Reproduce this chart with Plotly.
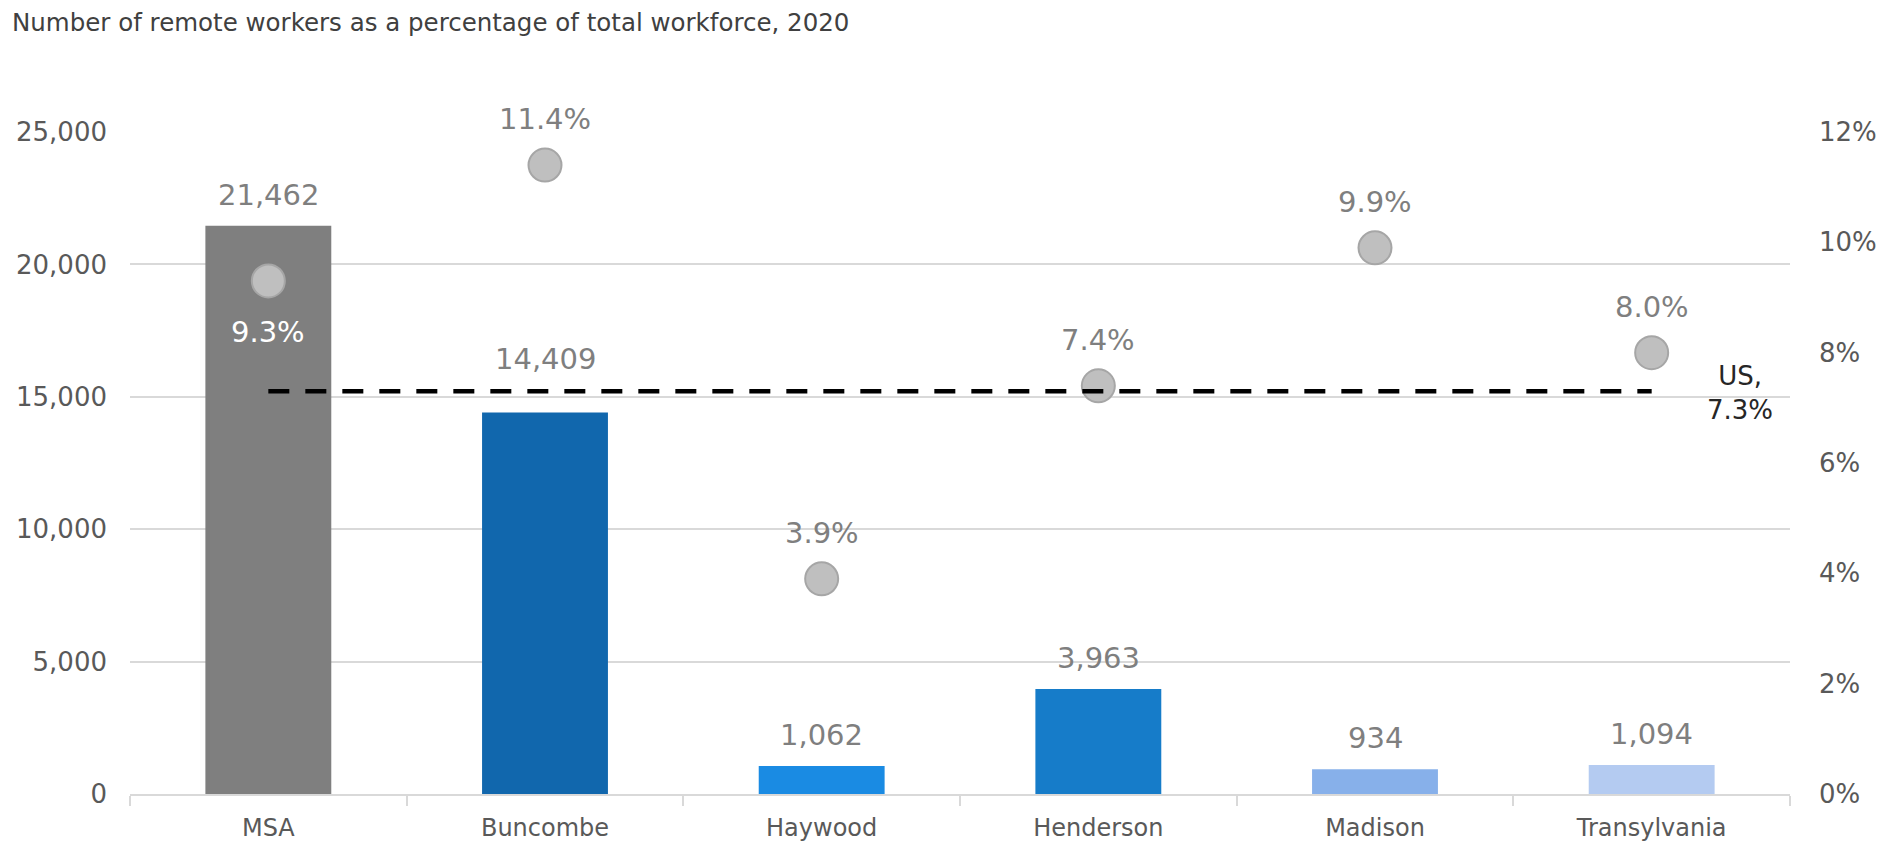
import plotly.graph_objects as go

# Counties of the Asheville MSA and their remote-work figures, 2020
categories = ["MSA", "Buncombe", "Haywood", "Henderson", "Madison", "Transylvania"]
remote_workers = [21462, 14409, 1062, 3963, 934, 1094]
remote_share = [9.3, 11.4, 3.9, 7.4, 9.9, 8.0]
us_share = 7.3
bar_colors = ["#7f7f7f", "#1167ad", "#1a8be3", "#167cc9", "#87b0ea", "#b4cbf1"]

left_ticks = [0, 5000, 10000, 15000, 20000, 25000]
right_ticks = [0, 2, 4, 6, 8, 10, 12]
right_tick_text = [f"{t}%" for t in right_ticks]

FONT = "DejaVu Sans"
LABEL_GREY = "#7f7f7f"
TICK_GREY = "#595959"
GRID = "#d9d9d9"

fig = go.Figure()

fig.add_trace(go.Bar(
    x=categories, y=remote_workers,
    marker=dict(color=bar_colors, line=dict(width=0)),
    hoverinfo="skip", showlegend=False,
))

fig.add_trace(go.Scatter(
    x=categories, y=remote_share, yaxis="y2", mode="markers",
    marker=dict(size=33, color="#bfbfbf", line=dict(color="#a6a6a6", width=2)),
    hoverinfo="skip", showlegend=False, cliponaxis=False,
))

fig.add_trace(go.Scatter(
    x=categories, y=[us_share] * len(categories), yaxis="y2", mode="lines",
    line=dict(color="#000000", width=4.5, dash="21px,16px"),
    hoverinfo="skip", showlegend=False, cliponaxis=False,
))

annotations = []
# Value labels above each bar (Buncombe's is lifted clear of the dashed line)
for cat, val in zip(categories, remote_workers):
    annotations.append(dict(
        x=cat, y=val, xref="x", yref="y", text=f"{val:,}", showarrow=False,
        yanchor="middle", yshift=53 if cat == "Buncombe" else 31,
        font=dict(family=FONT, size=29, color=LABEL_GREY),
    ))
# Percentage labels by each dot (MSA label sits inside its bar)
for i, (cat, pct) in enumerate(zip(categories, remote_share)):
    inside = i == 0
    annotations.append(dict(
        x=cat, y=pct, xref="x", yref="y2", text=f"{pct:.1f}%", showarrow=False,
        yanchor="middle", yshift=-51 if inside else 46,
        font=dict(family=FONT, size=29, color="#ffffff" if inside else LABEL_GREY),
    ))
# US benchmark label at the end of the dashed line
annotations.append(dict(
    x=categories[-1], y=us_share, xref="x", yref="y2", text=f"US,<br>{us_share:.1f}%",
    showarrow=False, xanchor="center", yanchor="middle", xshift=88, yshift=-2,
    align="center", font=dict(family=FONT, size=26, color="#262626"),
))

fig.update_layout(
    width=1899, height=843,
    margin=dict(l=130, r=109, t=132, b=49, pad=0, autoexpand=False),
    paper_bgcolor="#ffffff", plot_bgcolor="#ffffff",
    bargap=0.545,
    font=dict(family=FONT),
    title=dict(
        text="Number of remote workers as a percentage of total workforce, 2020",
        xref="container", yref="container", x=12 / 1899, y=1 - 22 / 843,
        xanchor="left", yanchor="middle", automargin=False,
        font=dict(family=FONT, size=24.5, color="#404040"),
    ),
    annotations=annotations,
    xaxis=dict(
        type="category", categoryarray=categories, showgrid=False,
        showline=True, linecolor=GRID, linewidth=2,
        ticks="outside", tickson="boundaries", ticklen=10, tickcolor=GRID, tickwidth=1.5,
        tickfont=dict(family=FONT, size=24, color=TICK_GREY),
        ticklabelstandoff=11, automargin=False,
    ),
    yaxis=dict(
        range=[0, 25000], tickvals=left_ticks, tickformat=",",
        showgrid=True, gridcolor=GRID, gridwidth=1.5,
        zeroline=False, showline=False, ticks="",
        tickfont=dict(family=FONT, size=26, color=TICK_GREY),
        ticklabelstandoff=22, automargin=False,
    ),
    yaxis2=dict(
        overlaying="y", side="right", range=[0, 12],
        tickmode="array", tickvals=right_ticks, ticktext=right_tick_text,
        showgrid=False, zeroline=False, showline=False, ticks="",
        tickfont=dict(family=FONT, size=26, color=TICK_GREY),
        ticklabelstandoff=28, automargin=False,
    ),
)

fig.write_html("out.html")
